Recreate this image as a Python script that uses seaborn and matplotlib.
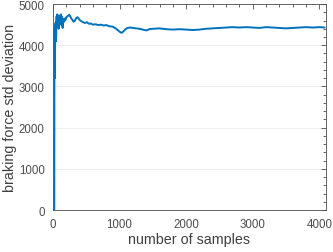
import numpy as np
import pandas as pd
import matplotlib
matplotlib.use("Agg")
import matplotlib.pyplot as plt
import seaborn as sns
from matplotlib.ticker import MultipleLocator

samples = [20, 22, 25, 28, 31, 34, 37, 40, 43, 46, 49, 52, 55, 60, 65, 70, 75, 80, 85, 90,
           95, 100, 105, 110, 115, 120, 125, 130, 135, 140, 145, 150, 160, 170, 180, 190,
           200, 215, 230, 245, 260, 275, 290, 310, 330, 350, 370, 390, 410, 430, 450,
           480, 510, 540, 570, 600, 640, 680, 720, 760, 800, 850, 900, 950, 1000, 1030,
           1060, 1090, 1120, 1160, 1200, 1250, 1300, 1350, 1400, 1450, 1500, 1600, 1700,
           1800, 1900, 2000, 2100, 2200, 2300, 2400, 2500, 2600, 2700, 2800, 2900, 3000,
           3100, 3200, 3300, 3400, 3500, 3600, 3700, 3800, 3900, 4000, 4080]
std_dev = [0, 4400, 4300, 3200, 3700, 4500, 4450, 4550, 4300, 4100, 4250, 4600, 4700, 4450,
           4750, 4500, 4650, 4700, 4400, 4600, 4720, 4650, 4500, 4700, 4550, 4750, 4600,
           4700, 4500, 4650, 4420, 4600, 4560, 4650, 4600, 4620, 4680, 4700, 4720, 4740,
           4700, 4650, 4620, 4570, 4600, 4660, 4680, 4640, 4600, 4580, 4560, 4540, 4560,
           4520, 4530, 4500, 4510, 4490, 4500, 4480, 4490, 4460, 4450, 4400, 4330, 4300,
           4340, 4390, 4420, 4430, 4420, 4410, 4400, 4380, 4360, 4390, 4400, 4410, 4390,
           4380, 4390, 4380, 4370, 4380, 4400, 4410, 4420, 4430, 4440, 4430, 4440, 4430,
           4420, 4440, 4430, 4420, 4410, 4420, 4430, 4440, 4430, 4440, 4430]

df = pd.DataFrame({"n": samples, "sd": std_dev})

sns.set_theme(style="white")
plt.rcParams["font.family"] = ["Liberation Sans", "DejaVu Sans"]

fig = plt.figure(figsize=(3.33, 2.53), dpi=100)
ax = fig.add_axes([0.159, 0.166, 0.820, 0.814])
sns.lineplot(data=df, x="n", y="sd", ax=ax, color="#0072BD", linewidth=1.4, zorder=3)

ax.set_xlim(0, 4100)
ax.set_ylim(0, 5000)
ax.xaxis.set_major_locator(MultipleLocator(1000))
ax.xaxis.set_minor_locator(MultipleLocator(200))
ax.yaxis.set_major_locator(MultipleLocator(1000))
ax.yaxis.set_minor_locator(MultipleLocator(200))
ax.tick_params(which="both", direction="in", top=True, right=True, colors="#4d4d4d",
               labelsize=8.3, labelcolor="#4d4d4d", width=0.6, pad=6)
ax.tick_params(which="major", length=3.5)
ax.tick_params(which="minor", length=2)
ax.grid(True, axis="y", which="major", color="#ebebeb", linewidth=0.6)
for s in ax.spines.values():
    s.set_color("#4d4d4d")
    s.set_linewidth(0.6)
ax.set_xlabel("number of samples", fontsize=10.3, color="#404040", labelpad=1)
ax.set_ylabel("braking force std deviation", fontsize=10.3, color="#404040", labelpad=1)

fig.savefig("out.png", dpi=100)
